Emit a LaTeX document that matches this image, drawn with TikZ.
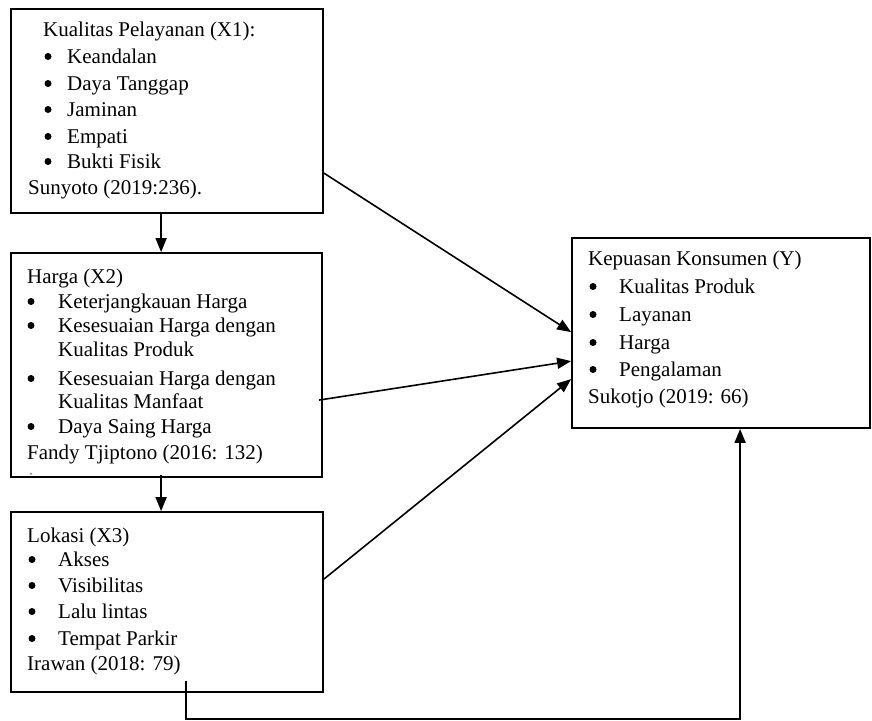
\documentclass[tikz,border=0pt]{standalone}
\usepackage{fontspec}
\setmainfont{Liberation Serif}
\usetikzlibrary{arrows.meta,calc}
\begin{document}
\begin{tikzpicture}[x=1pt,y=-1pt,
  boxst/.style={draw,line width=1.8pt,rectangle,inner sep=0pt},
  txt/.style={anchor=base west,inner sep=0pt,font=\fontsize{21}{26}\selectfont},
  bul/.style={circle,fill=black,inner sep=0pt,minimum size=7pt},
  arr/.style={line width=1.6pt,-{Triangle[length=14pt,width=11pt]}}]
\useasboundingbox (0,0) rectangle (872,720);
% boxes
\node[boxst,minimum width=312pt,minimum height=204pt] (x1) at (167,111) {};
\node[boxst,minimum width=311pt,minimum height=224pt] (x2) at (166.5,365) {};
\node[boxst,minimum width=312pt,minimum height=180pt] (x3) at (167,602) {};
\node[boxst,minimum width=298pt,minimum height=190pt] (y) at (721,333) {};
% X1 text
\node[txt] (t1a) at (43,36) {Kualitas Pelayanan (X1):};
\node[bul] (b1a) at (48,56.5) {}; \node[txt] (t1b) at (67,63) {Keandalan};
\node[bul] (b1b) at (48,83.5) {}; \node[txt] (t1c) at (67,90) {Daya Tanggap};
\node[bul] (b1c) at (48,109.5) {}; \node[txt] (t1d) at (67,116) {Jaminan};
\node[bul] (b1d) at (48,136.5) {}; \node[txt] (t1e) at (67,143) {Empati};
\node[bul] (b1e) at (48,161.5) {}; \node[txt] (t1f) at (67,168) {Bukti Fisik};
\node[txt] (t1g) at (28,194) {Sunyoto (2019:236).};
% X2 text
\node[txt] (t2a) at (27,283) {Harga (X2)};
\node[bul] (b2a) at (31,301.5) {}; \node[txt] (t2b) at (58,308) {Keterjangkauan Harga};
\node[bul] (b2b) at (31,325.5) {}; \node[txt] (t2c) at (58,332) {Kesesuaian Harga dengan};
\node[txt] (t2d) at (58,356) {Kualitas Produk};
\node[bul] (b2c) at (31,378.5) {}; \node[txt] (t2e) at (58,385) {Kesesuaian Harga dengan};
\node[txt] (t2f) at (58,408) {Kualitas Manfaat};
\node[bul] (b2d) at (31,426.5) {}; \node[txt] (t2g) at (58,433) {Daya Saing Harga};
\node[txt] (t2h) at (27,459) {Fandy Tjiptono (2016: 132)};
\node[inner sep=0pt,font=\fontsize{9}{10}\selectfont] (t2i) at (31,475) {-};
% X3 text
\node[txt] (t3a) at (27,542) {Lokasi (X3)};
\node[bul] (b3a) at (32,559.5) {}; \node[txt] (t3b) at (58,566) {Akses};
\node[bul] (b3b) at (32,585.5) {}; \node[txt] (t3c) at (58,592) {Visibilitas};
\node[bul] (b3c) at (32,611.5) {}; \node[txt] (t3d) at (58,618) {Lalu lintas};
\node[bul] (b3d) at (32,638.5) {}; \node[txt] (t3e) at (58,645) {Tempat Parkir};
\node[txt] (t3f) at (27,670) {Irawan (2018: 79)};
% Y text
\node[txt] (tya) at (588,265) {Kepuasan Konsumen (Y)};
\node[bul] (bya) at (593,286.5) {}; \node[txt] (tyb) at (619,293) {Kualitas Produk};
\node[bul] (byb) at (593,314.5) {}; \node[txt] (tyc) at (619,321) {Layanan};
\node[bul] (byc) at (593,342.5) {}; \node[txt] (tyd) at (619,349) {Harga};
\node[bul] (byd) at (593,369.5) {}; \node[txt] (tye) at (619,376) {Pengalaman};
\node[txt] (tyf) at (588,403) {Sukotjo (2019: 66)};
% connectors
\draw[arr] ($(x1.south west)+(151,0)$) -- ($(x2.north west)+(151,0)$);
\draw[arr] ($(x2.south west)+(151,-3)$) -- ($(x3.north west)+(151,0)$);
\draw[arr] ($(x1.north east)+(0,165)$) -- ($(y.north west)+(0,95)$);
\draw[arr] ($(x2.north east)+(-4,148)$) -- ($(y.north west)+(0,124)$);
\draw[arr] ($(x3.north east)+(0,68)$) -- ($(y.north west)+(0,142)$);
\draw[arr] ($(x3.south west)+(176,-12)$) |- ($(y.south west)+(169,290)$) -- ($(y.south west)+(169,0)$);
\end{tikzpicture}
\end{document}
